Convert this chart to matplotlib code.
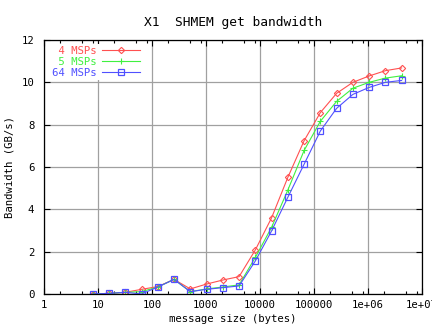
import matplotlib
matplotlib.use('Agg')
import matplotlib.pyplot as plt
from matplotlib.ticker import FixedLocator, NullFormatter

# message sizes (bytes)
sizes = [8, 16, 32, 64, 128, 256, 512, 1024, 2048, 4096, 8192, 16384, 32768,
         65536, 131072, 262144, 524288, 1048576, 2097152, 4194304]

# bandwidth (GB/s)
bw_4 = [0.0, 0.03, 0.08, 0.22, 0.35, 0.69, 0.24, 0.47, 0.66, 0.82, 2.08, 3.6,
        5.51, 7.24, 8.57, 9.48, 10.0, 10.3, 10.55, 10.68]
bw_5 = [0.0, 0.03, 0.08, 0.11, 0.33, 0.69, 0.11, 0.24, 0.33, 0.43, 1.73, 3.15,
        4.91, 6.78, 8.16, 9.10, 9.72, 10.0, 10.2, 10.31]
bw_64 = [0.0, 0.03, 0.08, 0.0, 0.33, 0.69, 0.11, 0.22, 0.3, 0.38, 1.56, 2.98,
         4.57, 6.13, 7.70, 8.77, 9.43, 9.76, 10.0, 10.09]

labels = [' 4 MSPs', ' 5 MSPs', '64 MSPs']
xticks = [1, 10, 100, 1000, 10000, 100000, 1e6, 1e7]
xticklabels = ['1', '10', '100', '1000', '10000', '100000', '1e+06', '1e+07']

plt.rcParams['font.family'] = 'DejaVu Sans Mono'
plt.rcParams['font.size'] = 7.7

red = '#ff5050'
green = '#40f040'
blue = '#5050ff'

fig = plt.figure(figsize=(4.32, 3.28), dpi=100)
ax = fig.add_axes([44/432, 1 - 294/328, 378/432, 254/328])

ax.plot(sizes, bw_4, color=red, lw=0.8, marker='D', ms=3.2, mfc='none', mew=0.8, label=labels[0])
ax.plot(sizes, bw_5, color=green, lw=0.8, marker='+', ms=5, mew=0.8, label=labels[1])
ax.plot(sizes, bw_64, color=blue, lw=0.8, marker='s', ms=4.2, mfc='none', mew=0.9, label=labels[2])

ax.set_xscale('log')
ax.set_xlim(1, 1e7)
ax.set_ylim(0, 12)
ax.xaxis.set_major_locator(FixedLocator(xticks))
ax.set_xticklabels(xticklabels)
minor = [m * 10**e for e in range(0, 7) for m in (2, 5, 8)]
ax.xaxis.set_minor_locator(FixedLocator(minor))
ax.xaxis.set_minor_formatter(NullFormatter())
ax.set_yticks([0, 2, 4, 6, 8, 10, 12])

ax.tick_params(which='both', direction='in', top=True, right=True, width=0.8, colors='black')
ax.tick_params(which='major', length=4.5)
ax.tick_params(axis='x', which='major', pad=4)
ax.tick_params(axis='y', which='major', pad=7)
ax.tick_params(which='minor', length=2.5)
ax.grid(True, which='major', color='#a0a0a0', lw=0.9)
for s in ax.spines.values():
    s.set_linewidth(0.9)

ax.set_title('X1  SHMEM get bandwidth', pad=10)
ax.set_xlabel('message size (bytes)', labelpad=3)
ax.set_ylabel('Bandwidth (GB/s)', labelpad=5)

leg = ax.legend(loc='upper left', bbox_to_anchor=(0.015, 0.985), markerfirst=False,
                frameon=True, fancybox=False, handlelength=3.6, handletextpad=0.5,
                labelspacing=0.1, borderpad=0.2, borderaxespad=0)
leg.get_frame().set_facecolor('white')
leg.get_frame().set_edgecolor('none')
leg.get_frame().set_alpha(1)
for t, c in zip(leg.get_texts(), [red, green, blue]):
    t.set_color(c)

fig.savefig('out.png', dpi=100)
